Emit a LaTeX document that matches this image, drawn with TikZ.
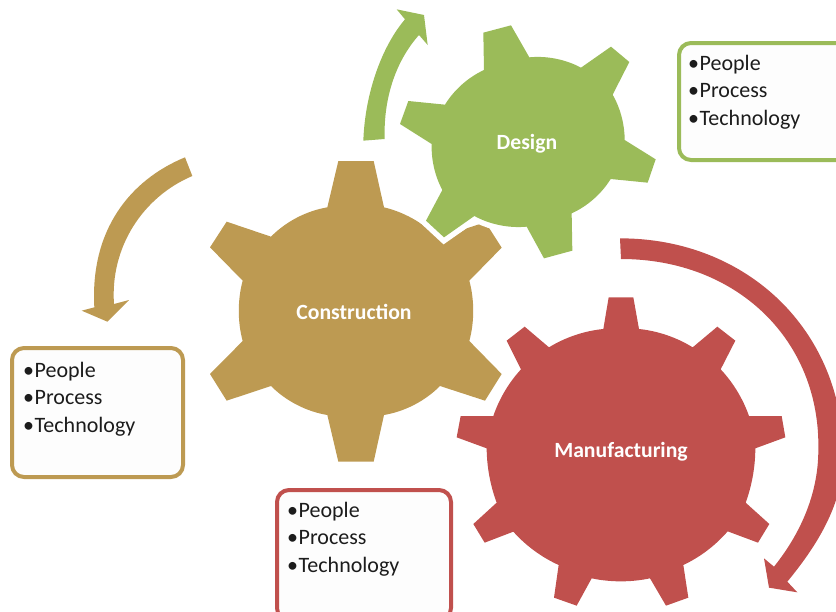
\documentclass[tikz,border=0pt]{standalone}
\usepackage{fontspec}
\setmainfont{Carlito}
\definecolor{gearbrown}{HTML}{BD9A52}
\definecolor{geargreen}{HTML}{9BBB59}
\definecolor{gearred}{HTML}{C0504D}
\definecolor{boxfill}{HTML}{FDFDFD}
\definecolor{listink}{HTML}{1C1C1C}
\tikzset{
  infobox/.style={rounded corners=12pt,line width=4pt,fill=boxfill,anchor=north west,inner sep=0pt,outer sep=0pt},
  listtext/.style={anchor=north west,align=left,inner sep=0pt,text=listink,font=\fontsize{22pt}{27.5pt}\selectfont},
  gearlabel/.style={text=white,font=\fontsize{21.7pt}{24pt}\selectfont\bfseries,inner sep=0pt},
  zoomthree/.style={x=0.33333pt,y=-0.33333pt},
  every to/.style={looseness=0.85}
}
\newcommand{\bul}{\makebox[11.5pt][l]{•}}
\newcommand{\threelines}{\bul People\\\bul Process\\\bul Technology}
\newcommand{\designgear}[1]{%
  \begin{scope}[shift={(350,0)},zoomthree]
    \path[#1] (402,210)--(400,98)--(483,76)--(538,172) to[bend left=17]
      (693,203)--(783,140)--(838,186)--(788,284) to[bend left=15]
      (824,420)--(917,478)--(893,548)--(782,537) to[bend left=17]
      (665,640)--(667,752)--(582,775)--(530,680) to[bend left=17]
      (373,648)--(282,712)--(228,662)--(277,570) to[bend left=15]
      (245,432)--(150,372)--(175,303)--(285,314) to[bend left=17]
      cycle;
  \end{scope}}
\begin{document}
\begin{tikzpicture}[x=1pt,y=-1pt]
\useasboundingbox (0,0) rectangle (836,611);
\clip (0,0) rectangle (836,611);
% information boxes
\node[infobox,draw=gearbrown,minimum width=171pt,minimum height=129pt] (boxC) at (12,348) {};
\node[infobox,draw=geargreen,minimum width=171pt,minimum height=117pt] (boxD) at (679,43) {};
\node[infobox,draw=gearred,minimum width=174pt,minimum height=130pt] (boxM) at (277,490) {};
\node[listtext] (textC) at (23,362) {\threelines};
\node[listtext] (textD) at (688,55) {\threelines};
\node[listtext] (textM) at (287,502) {\threelines};
% construction gear
\begin{scope}[shift={(200,150)},zoomthree]
  \fill[gearbrown] (382,172)--(415,33)--(521,33)--(552,172) to[bend left=18]
    (730,280)--(800,235)--(840,222)--(868,235)--(905,293)--(808,392) to[bend left=15]
    (808,573)--(905,672)--(855,752)--(720,708) to[bend left=18]
    (552,795)--(521,935)--(415,935)--(382,795) to[bend left=18]
    (213,708)--(80,752)--(30,672)--(128,573) to[bend left=15]
    (128,392)--(30,292)--(80,215)--(213,260) to[bend left=18]
    cycle;
\end{scope}
% design gear with its white halo
\designgear{draw=white,line width=11pt,line join=miter}
\designgear{fill=geargreen}
% manufacturing gear
\begin{scope}[shift={(450,230)},zoomthree]
  \fill[gearred] (460,297)--(476,202)--(550,202)--(567,297) to[bend left=13]
    (728,352)--(802,290)--(856,332)--(812,418) to[bend left=12]
    (897,558)--(995,558)--(1006,622)--(916,655) to[bend left=10]
    (887,818)--(958,882)--(924,938)--(833,904) to[bend left=12]
    (700,1005)--(715,1103)--(648,1127)--(600,1045) to[bend left=12]
    (425,1045)--(380,1127)--(312,1103)--(326,1005) to[bend left=12]
    (190,905)--(104,938)--(70,882)--(140,818) to[bend left=10]
    (110,655)--(20,622)--(32,558)--(130,558) to[bend left=12]
    (213,418)--(170,332)--(224,290)--(297,352) to[bend left=13]
    cycle;
\end{scope}
% curved arrows
\begin{scope}[shift={(350,0)},zoomthree]
  \fill[geargreen] (40,422) .. controls (45,280) and (95,140) .. (165,58)
    -- (140,28) -- (222,45) -- (233,135) -- (207,105)
    .. controls (140,180) and (100,290) .. (104,417) -- cycle;
\end{scope}
\begin{scope}[shift={(0,150)},zoomthree]
  \fill[gearbrown] (555,22) .. controls (390,90) and (270,240) .. (283,472)
    -- (245,482) -- (322,515) -- (387,450) -- (342,462)
    .. controls (330,290) and (430,140) .. (577,78) -- cycle;
\end{scope}
\begin{scope}[shift={(450,230)},zoomthree]
  \fill[gearred] (510,25) .. controls (890,25) and (1180,300) .. (1180,680)
    .. controls (1180,830) and (1090,960) .. (1012,1055)
    -- (1042,1087) -- (957,1073) -- (942,985) -- (972,1010)
    .. controls (1060,900) and (1105,780) .. (1105,660)
    .. controls (1112,330) and (860,87) .. (513,87) -- cycle;
\end{scope}
% gear labels
\node[gearlabel] (design) at (527,143.5) {Design};
\node[gearlabel] (construction) at (354,311.5) {Construction};
\node[gearlabel] (manufacturing) at (621,452) {Manufacturing};
\end{tikzpicture}
\end{document}
